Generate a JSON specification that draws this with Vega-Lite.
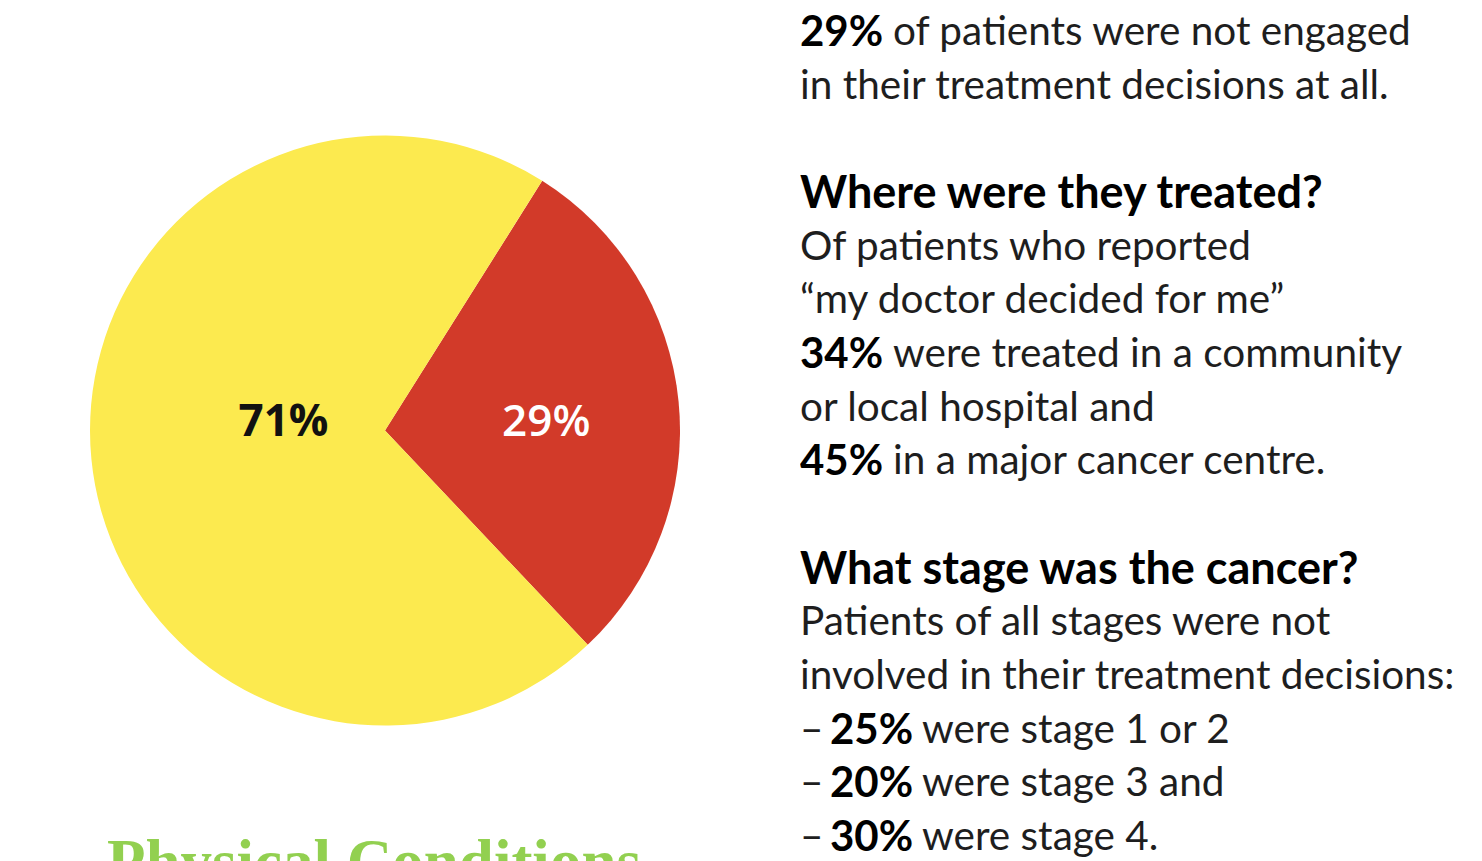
{
  "$schema": "https://vega.github.io/schema/vega-lite/v6.json",
  "padding": 0,
  "background": "white",
  "spacing": 30,
  "bounds": "flush",
  "config": {"view": {"stroke": null}},
  "hconcat": [
    {
      "width": 770,
      "height": 861,
      "data": {"values": [
        {"label": "29%", "group": "Not engaged", "value": 29},
        {"label": "71%", "group": "Engaged", "value": 71}
      ]},
      "layer": [
        {
          "mark": {"type": "arc", "outerRadius": 295},
          "encoding": {
            "theta": {"field": "value", "type": "quantitative", "stack": true, "scale": {"range": [0.562, 6.845]}},
            "color": {"field": "label", "type": "nominal", "scale": {"domain": ["29%", "71%"], "range": ["#D23A29", "#FCEA4F"]}, "legend": null},
            "order": {"field": "value", "type": "quantitative", "sort": "ascending"}
          }
        },
        {
          "mark": {"type": "text", "radius": 102, "dy": -17, "font": "Open Sans", "fontSize": 44, "fontWeight": "bold", "color": "#111111", "baseline": "middle"},
          "encoding": {
            "theta": {"field": "value", "type": "quantitative", "stack": true},
            "detail": {"field": "label", "type": "nominal"},
            "order": {"field": "value", "type": "quantitative", "sort": "ascending"},
            "text": {"field": "label", "type": "nominal"},
            "opacity": {"condition": {"test": "datum.label === '71%'", "value": 1}, "value": 0}
          }
        },
        {
          "mark": {"type": "text", "radius": 162, "dy": 8, "font": "Open Sans", "fontSize": 44, "fontWeight": 600, "color": "#FFFFFF", "baseline": "middle"},
          "encoding": {
            "theta": {"field": "value", "type": "quantitative", "stack": true},
            "detail": {"field": "label", "type": "nominal"},
            "order": {"field": "value", "type": "quantitative", "sort": "ascending"},
            "text": {"field": "label", "type": "nominal"},
            "opacity": {"condition": {"test": "datum.label === '29%'", "value": 1}, "value": 0}
          }
        },
        {
          "data": {"values": [{"caption": "Physical Conditions"}]},
          "mark": {"type": "text", "align": "center", "baseline": "alphabetic", "dx": -11, "dy": 452, "font": "Liberation Serif", "fontWeight": "bold", "fontSize": 63, "color": "#92D050", "clip": true},
          "encoding": {"text": {"field": "caption", "type": "nominal"}}
        }
      ]
    },
    {
      "width": 682,
      "height": 861,
      "data": {"values": [
        {"line": 0, "part": "bold", "text": "29%"},
        {"line": 0, "part": "rest", "text": "of patients were not engaged"},
        {"line": 1, "part": "lead", "text": "in their treatment decisions at all."},
        {"line": 3, "part": "head", "text": "Where were they treated?"},
        {"line": 4, "part": "lead", "text": "Of patients who reported"},
        {"line": 5, "part": "lead", "text": "“my doctor decided for me”"},
        {"line": 6, "part": "bold", "text": "34%"},
        {"line": 6, "part": "rest", "text": "were treated in a community"},
        {"line": 7, "part": "lead", "text": "or local hospital and"},
        {"line": 8, "part": "bold", "text": "45%"},
        {"line": 8, "part": "rest", "text": "in a major cancer centre."},
        {"line": 10, "part": "head", "text": "What stage was the cancer?"},
        {"line": 11, "part": "lead", "text": "Patients of all stages were not"},
        {"line": 12, "part": "lead", "text": "involved in their treatment decisions:"},
        {"line": 13, "part": "lead", "text": "–"},
        {"line": 13, "part": "dashbold", "text": "25%"},
        {"line": 13, "part": "dashrest", "text": "were stage 1 or 2"},
        {"line": 14, "part": "lead", "text": "–"},
        {"line": 14, "part": "dashbold", "text": "20%"},
        {"line": 14, "part": "dashrest", "text": "were stage 3 and"},
        {"line": 15, "part": "lead", "text": "–"},
        {"line": 15, "part": "dashbold", "text": "30%"},
        {"line": 15, "part": "dashrest", "text": "were stage 4."}
      ]},
      "encoding": {
        "x": {"value": 0},
        "y": {"field": "line", "type": "quantitative", "scale": {"domain": [0, 15], "range": [33, 838], "zero": false, "nice": false}, "axis": null},
        "text": {"field": "text", "type": "nominal"}
      },
      "layer": [
        {
          "transform": [{"filter": {"field": "part", "oneOf": ["lead"]}}],
          "mark": {"type": "text", "align": "left", "baseline": "middle", "font": "Lato", "fontSize": 40.5, "color": "#1e1e1e", "clip": true}
        },
        {
          "transform": [{"filter": {"field": "part", "oneOf": ["head"]}}],
          "mark": {"type": "text", "align": "left", "baseline": "middle", "font": "Lato", "fontSize": 45, "fontWeight": "bold", "color": "#000000", "clip": true}
        },
        {
          "transform": [{"filter": {"field": "part", "oneOf": ["bold"]}}],
          "mark": {"type": "text", "align": "left", "baseline": "middle", "font": "Lato", "fontSize": 42, "fontWeight": "bold", "color": "#000000", "clip": true}
        },
        {
          "transform": [{"filter": {"field": "part", "oneOf": ["rest"]}}],
          "mark": {"type": "text", "align": "left", "baseline": "middle", "dx": 93, "font": "Lato", "fontSize": 40.5, "color": "#1e1e1e", "clip": true}
        },
        {
          "transform": [{"filter": {"field": "part", "oneOf": ["dashbold"]}}],
          "mark": {"type": "text", "align": "left", "baseline": "middle", "dx": 30, "font": "Lato", "fontSize": 42, "fontWeight": "bold", "color": "#000000", "clip": true}
        },
        {
          "transform": [{"filter": {"field": "part", "oneOf": ["dashrest"]}}],
          "mark": {"type": "text", "align": "left", "baseline": "middle", "dx": 122, "font": "Lato", "fontSize": 40.5, "color": "#1e1e1e", "clip": true}
        }
      ]
    }
  ]
}
